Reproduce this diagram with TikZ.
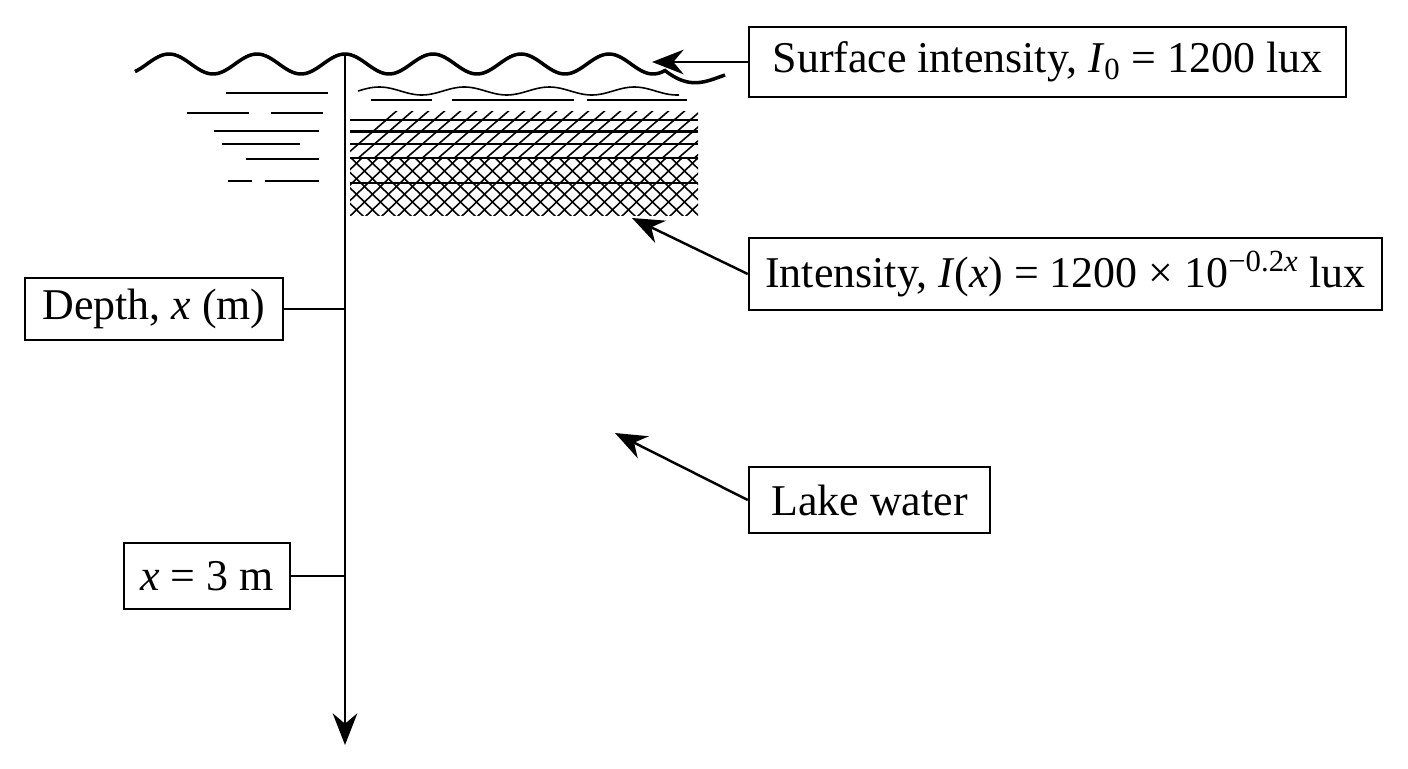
\documentclass[tikz,border=0pt]{standalone}
\usepackage{fontspec}
\setmainfont{Liberation Serif}
\usetikzlibrary{arrows.meta,positioning}
\tikzset{
  lbl/.style={draw,line width=1.4pt,inner sep=0pt,font=\fontsize{25}{30}\selectfont},
  ptr/.style={line width=1.4pt,-{Stealth[length=18pt,width=14pt]}},
  tick/.style={line width=1.4pt},
  hatch/.style={line width=0.9pt}
}
\begin{document}
\begin{tikzpicture}[x=0.02cm,y=-0.02cm]
\useasboundingbox (0,0) rectangle (1408,768);
% surface wave
\draw[line width=2pt] plot[domain=135:665,samples=200,smooth] (\x,{64+10*sin(4.0909*(\x-103))})
  .. controls (690,90) and (705,82) .. (725,75);
% light layers
\draw[hatch] plot[domain=358:679,samples=120,smooth] (\x,{91+4*sin(4.2353*(\x-358)+180)});
\foreach \a/\b/\y in {371/432/100,452/574/100,587/687/100,
  226/328/93,187/249/113,271/323/113,214/319/131,222/300/144,246/319/159,228/252/181,265/319/181}
  \draw[hatch] (\a,\y) -- (\b,\y);
\begin{scope}
\clip (350,111) rectangle (698,158);
\foreach \k in {0,...,26} \draw[hatch] (340+16*\k,160) -- (400+16*\k,108);
\end{scope}
\begin{scope}
\clip (350,158) rectangle (698,215);
\foreach \k in {0,...,26} {
  \draw[hatch] (300+16*\k,218) -- (365+16*\k,155);
  \draw[hatch] (300+16*\k,155) -- (365+16*\k,218);
}
\end{scope}
\foreach \y in {120,131.5,144,158,183} \draw[line width=1.2pt] (350,\y) -- (698,\y);
% depth axis
\coordinate (top) at (345,56);
\coordinate (bot) at (345,745);
\draw[ptr] (top) -- (bot);
% labels
\node[lbl,minimum width=597*0.02cm,minimum height=70*0.02cm] (surf) at (1047.5,62) {Surface intensity, \textit{I}\textsubscript{0} = 1200 lux};
\node[lbl,minimum width=633*0.02cm,minimum height=72*0.02cm] (inten) at (1065.5,274) {Intensity, \textit{I}(\textit{x}) = 1200 × 10\textsuperscript{−0.2\textit{x}} lux};
\node[lbl,minimum width=241*0.02cm,minimum height=66*0.02cm] (lake) at (869.5,500) {Lake water};
\node[lbl,minimum width=258*0.02cm,minimum height=62*0.02cm] (depth) at (154,309) {Depth, \textit{x} (m)};
\node[lbl,minimum width=166*0.02cm,minimum height=66*0.02cm] (three) at (207,576) {\textit{x} = 3 m};
\coordinate (pS) at (652,62);
\coordinate (pI) at (632,218);
\coordinate (pL) at (615,433);
\draw[ptr] (surf.west) -- (pS);
\draw[ptr] (inten.west) -- (pI);
\draw[ptr] (lake.west) -- (pL);
\draw[tick] (depth.east) -- (345,309);
\draw[tick] (three.east) -- (345,576);
\end{tikzpicture}
\end{document}
